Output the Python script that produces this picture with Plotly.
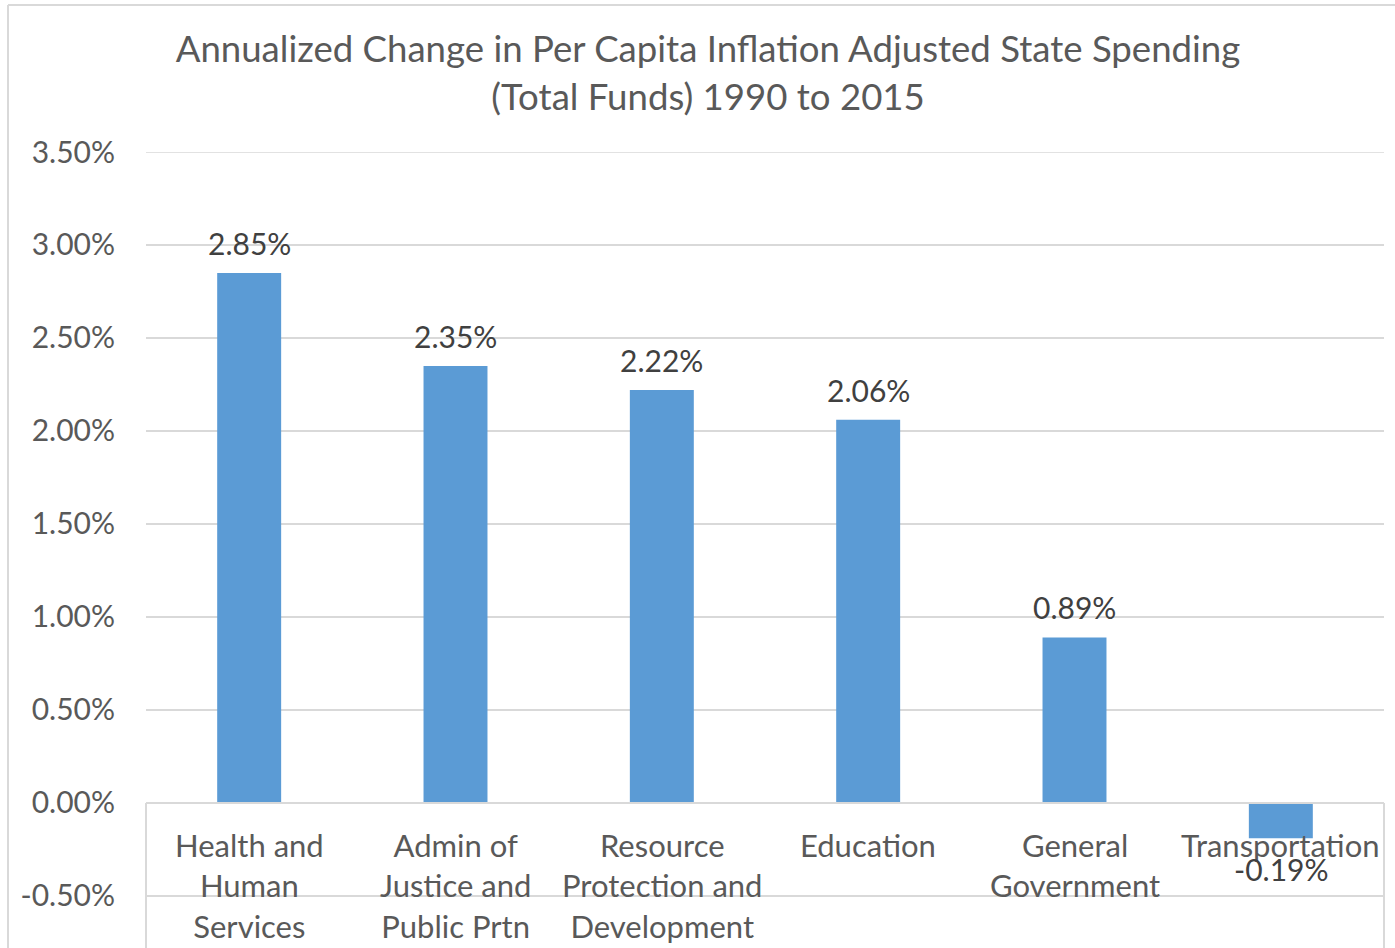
import plotly.graph_objects as go

categories = ["Health and Human Services", "Admin of Justice and Public Prtn",
              "Resource Protection and Development", "Education",
              "General Government", "Transportation"]
category_labels = ["Health and<br>Human<br>Services", "Admin of<br>Justice and<br>Public Prtn",
                   "Resource<br>Protection and<br>Development", "Education",
                   "General<br>Government", "Transportation"]
values = [2.85, 2.35, 2.22, 2.06, 0.89, -0.19]
data_labels = ["2.85%", "2.35%", "2.22%", "2.06%", "0.89%", "-0.19%"]
y_ticks = [-0.5, 0.0, 0.5, 1.0, 1.5, 2.0, 2.5, 3.0, 3.5]
y_ticktext = ["-0.50%", "0.00%", "0.50%", "1.00%", "1.50%", "2.00%", "2.50%", "3.00%", "3.50%"]

FONT = "Lato"
GRAY = "#595959"
GRID = "#D9D9D9"
W, H = 1395, 948
L, R, T, B = 146, 11, 152, 0
YMIN, YMAX = -0.78, 3.5

fig = go.Figure()
fig.add_trace(go.Bar(x=categories, y=values, marker=dict(color="#5B9BD5", line=dict(width=0)),
                     width=0.31, showlegend=False))

annotations = []
for c, lab in zip(categories, category_labels):
    annotations.append(dict(x=c, y=0, xref="x", yref="y", text=lab, showarrow=False,
                            yanchor="top", yshift=-21, font=dict(family=FONT, size=31, color=GRAY),
                            align="center"))
for c, v, t in zip(categories, values, data_labels):
    annotations.append(dict(x=c, y=v, xref="x", yref="y", text=t, showarrow=False,
                            yanchor="bottom" if v >= 0 else "top",
                            yshift=10 if v >= 0 else -11,
                            font=dict(family=FONT, size=30, color="#404040")))

pw = W - L - R
ph = H - T - B
def px_x(p):
    return (p - L) / pw
def px_y(p):
    return (H - B - p) / ph

shapes = [
    # outer chart border (top, left)
    dict(type="line", xref="paper", yref="paper", x0=px_x(8), x1=px_x(1400), y0=px_y(5), y1=px_y(5),
         line=dict(color=GRID, width=2)),
    dict(type="line", xref="paper", yref="paper", x0=px_x(8), x1=px_x(8), y0=px_y(5), y1=px_y(960),
         line=dict(color=GRID, width=2)),
    # top gridline (at range edge)
    dict(type="line", xref="paper", yref="y", x0=0, x1=1, y0=YMAX, y1=YMAX, line=dict(color=GRID, width=1.5)),
    # axis box below zero
    dict(type="line", xref="paper", yref="y", x0=0, x1=0, y0=YMIN, y1=0, line=dict(color=GRID, width=2)),
    dict(type="line", xref="paper", yref="y", x0=1, x1=1, y0=YMIN, y1=0, line=dict(color=GRID, width=2)),
    dict(type="line", xref="paper", yref="y", x0=0, x1=1, y0=0, y1=0, line=dict(color=GRID, width=2)),
]

fig.update_layout(
    width=W, height=H,
    margin=dict(l=L, r=R, t=T, b=B),
    paper_bgcolor="white", plot_bgcolor="white",
    title=dict(text="Annualized Change in Per Capita Inflation Adjusted State Spending<br>(Total Funds) 1990 to 2015",
               x=708 / W, xanchor="center", xref="container", y=1 - 62 / H, yanchor="middle", yref="container",
               font=dict(family=FONT, size=36.6, color=GRAY)),
    bargap=0.69,
    xaxis=dict(showticklabels=False, showgrid=False, zeroline=False, showline=False, ticks=""),
    yaxis=dict(range=[YMIN, YMAX], tickvals=y_ticks, ticktext=y_ticktext, showgrid=True,
               gridcolor=GRID, gridwidth=1.5, zeroline=False, showline=False, ticks="",
               ticklabelstandoff=30, tickfont=dict(family=FONT, size=30, color=GRAY)),
    annotations=annotations,
    shapes=shapes,
)

fig.write_html("out.html", config={"displayModeBar": False},
               post_script="document.body.style.margin='0';document.body.style.overflow='hidden';")
